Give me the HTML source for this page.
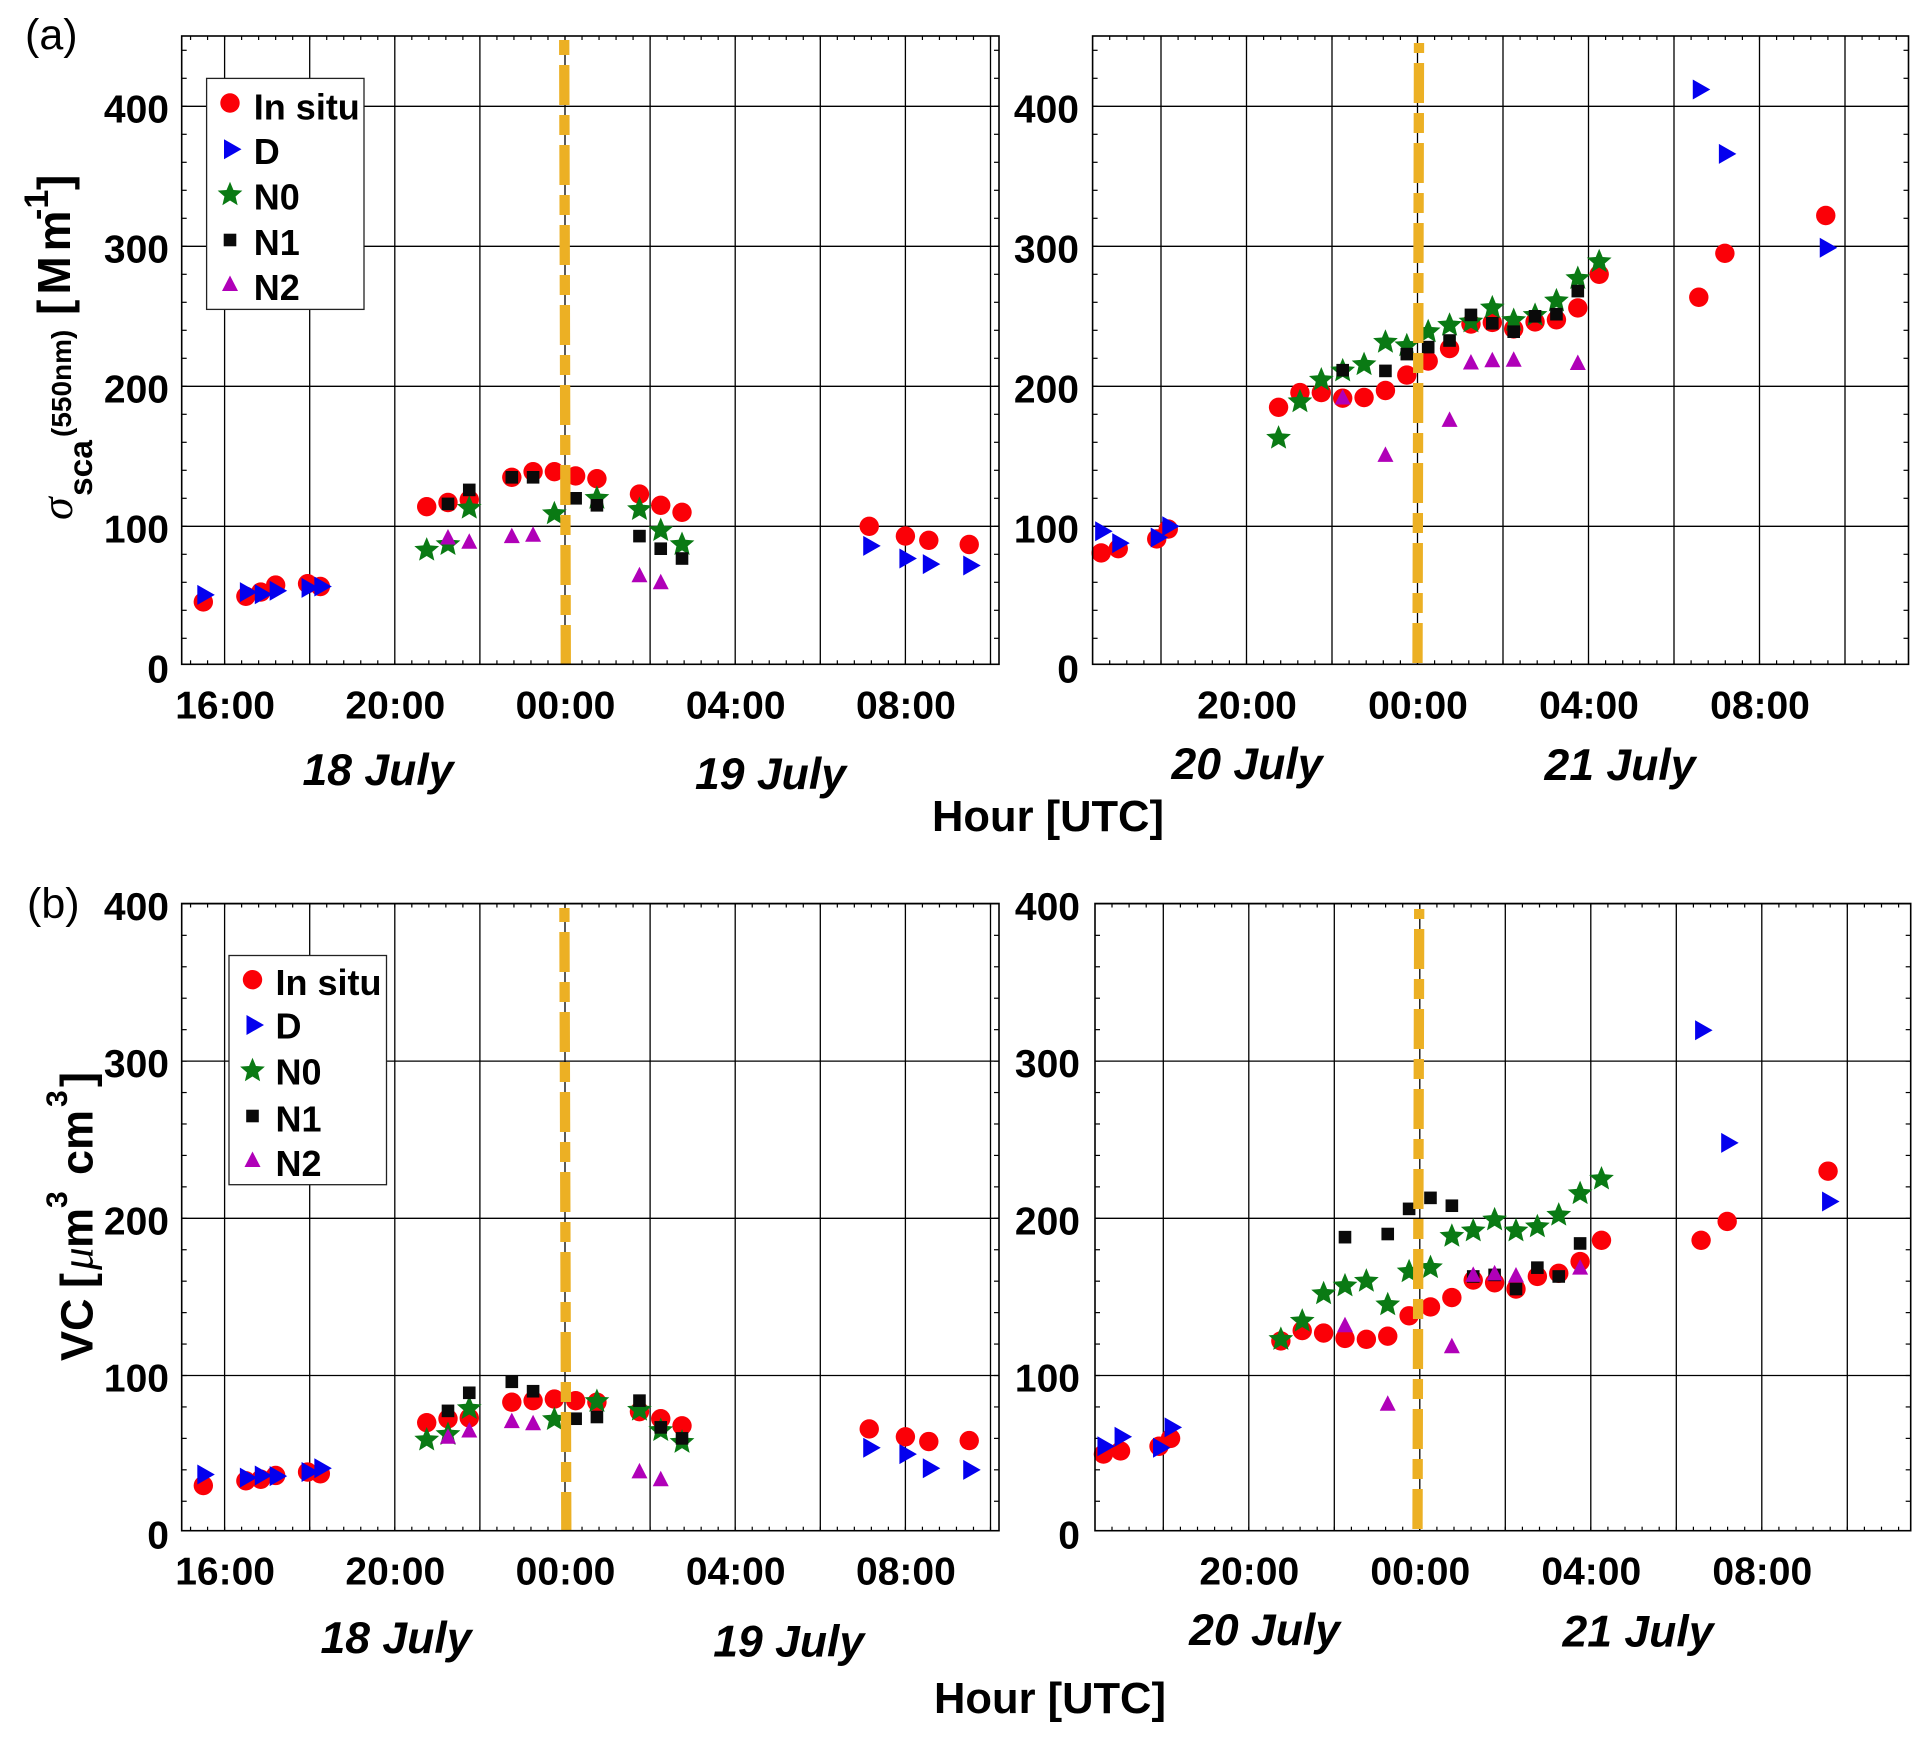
<!DOCTYPE html>
<html lang="en">
<head>
<meta charset="utf-8">
<title>Scattering coefficient and volume concentration time series</title>
<style>
html,body{margin:0;padding:0;background:#fff;}
svg{display:block;}
text{font-family:"Liberation Sans",sans-serif;fill:#000;}
.tick{font-weight:700;font-size:39px;}
.date{font-weight:700;font-style:italic;font-size:44.5px;text-anchor:middle;}
.hour{font-weight:700;font-size:43.5px;text-anchor:middle;}
.leg{font-weight:700;font-size:36px;}
.tag{font-size:43px;}
.ttl{font-weight:700;}
.sym{font-family:"Liberation Serif",serif;font-style:italic;font-weight:400;}
</style>
</head>
<body>
<svg id="chart" xmlns="http://www.w3.org/2000/svg" width="1931" height="1741" viewBox="0 0 1931 1741">
  <rect x="0" y="0" width="1931" height="1741" fill="#fff"/>
  <g id="plots"></g>

  <text class="tag" x="25" y="49">(a)</text>
  <text class="tag" x="27" y="918">(b)</text>

  <g>
    <text class="sym" font-size="46" transform="translate(72,520) rotate(-90)">σ</text>
    <text class="ttl" font-size="33.5" transform="translate(92,496) rotate(-90)">sca</text>
    <text class="ttl" font-size="28" transform="translate(71,437) rotate(-90)">(550nm)</text>
    <text class="ttl" font-size="46" letter-spacing="5" transform="translate(70,315) rotate(-90)">[Mm</text>
    <text class="ttl" font-size="34" transform="translate(48,220) rotate(-90)">-1</text>
    <text class="ttl" font-size="46" transform="translate(70,190) rotate(-90)">]</text>
  </g>
  <g>
    <text class="ttl" font-size="45" transform="translate(92.5,1361) rotate(-90)">VC</text>
    <text class="ttl" font-size="45" transform="translate(92.5,1288) rotate(-90)">[</text>
    <text class="sym" font-size="45" transform="translate(92.5,1270) rotate(-90)">μ</text>
    <text class="ttl" font-size="45" transform="translate(92.5,1248) rotate(-90)">m</text>
    <text class="ttl" font-size="30" transform="translate(67,1208) rotate(-90)">3</text>
    <text class="ttl" font-size="45" transform="translate(92.5,1175) rotate(-90)">cm</text>
    <text class="ttl" font-size="30" transform="translate(67,1107) rotate(-90)">3</text>
    <text class="ttl" font-size="45" transform="translate(92.5,1087) rotate(-90)">]</text>
  </g>

  <text class="date" x="378" y="785">18 July</text>
  <text class="date" x="770.5" y="789">19 July</text>
  <text class="date" x="1247" y="779">20 July</text>
  <text class="date" x="1620" y="780">21 July</text>
  <text class="hour" x="1048" y="831">Hour [UTC]</text>

  <text class="date" x="396" y="1653">18 July</text>
  <text class="date" x="788.7" y="1656.6">19 July</text>
  <text class="date" x="1264.6" y="1645">20 July</text>
  <text class="date" x="1638" y="1646.5">21 July</text>
  <text class="hour" x="1050" y="1713">Hour [UTC]</text>

  <g id="legends"></g>
</svg>
<script>
// ---- shared sample times (hours; 24 = 00:00 of the following day) ----
const leftTimes = [15.5,16.5,16.85,17.2,17.95,18.25,20.75,21.25,21.75,22.75,23.25,23.75,24.25,24.75,25.75,26.25,26.75,31.15,32,32.55,33.5];
const rightTimes = [16.6,17,17.9,18.17,20.75,21.25,21.75,22.25,22.75,23.25,23.75,24.25,24.75,25.25,25.75,26.25,26.75,27.25,27.75,28.25,30.58,31.19,33.55];

// ---- panel (a) scattering, 18-19 July ----
const scaLeftInSitu = [46,50,53,58,59,57,114,117,119,135,139,139,136,134,123,115,110,100,93,90,87];
const scaLeftD = [51,53,51.5,54,56,57,null,null,null,null,null,null,null,null,null,null,null,86,77,73,72];
const scaLeftN0 = [null,null,null,null,null,null,83,87,113,null,null,109,null,120,112,97,87,null,null,null,null];
const scaLeftN1 = [null,null,null,null,null,null,null,116,126,135,135,null,120,115,93,84,77,null,null,null,null];
const scaLeftN2 = [null,null,null,null,null,null,null,92,89,93,94,null,null,null,65,60,null,null,null,null,null];

// ---- panel (a) scattering, 20-21 July ----
const scaRightInSitu = [81,84,91,98,185,195.5,195.5,191.5,192,197,208,218,227,244.5,245.6,241,246,247.5,256,280,263.6,295,322];
const scaRightD = [96.5,88,92,100,null,null,null,null,null,null,null,null,null,null,null,null,null,null,null,null,412,366,299];
const scaRightN0 = [null,null,null,null,163,189,204.5,211,215.5,231.5,229,239,243.6,246,256,247,250.7,261,277,289,null,null,null];
const scaRightN1 = [null,null,null,null,null,null,null,211.5,null,211,223,228,232.7,251,245,239,250,251.5,268,null,null,null,null];
const scaRightN2 = [null,null,null,null,null,null,null,192,null,151,null,null,176,217,218.6,219,null,null,216.6,null,null,null,null];

// ---- panel (b) volume concentration, 18-19 July ----
const vcLeftInSitu = [30,33,34,36.4,38.6,37.5,70,72.5,73,83,84,85,84,83,77,72.5,68,66,61,58,58.6];
const vcLeftD = [37,35,36.4,36,38.6,41,null,null,null,null,null,null,null,null,null,null,null,54,50,41,40];
const vcLeftN0 = [null,null,null,null,null,null,59,62.5,79,null,null,72,null,83.5,78,65,57.5,null,null,null,null];
const vcLeftN1 = [null,null,null,null,null,null,null,77.5,89,96,90,null,72.5,73.6,84,67,60,null,null,null,null];
const vcLeftN2 = [null,null,null,null,null,null,null,61,65,71,69.6,null,null,null,39,34,null,null,null,null,null];

// ---- panel (b) volume concentration, 20-21 July ----
const vcRightInSitu = [50,52,55,60,122,128.6,127,123.6,123,125,138,143.6,149.6,160.7,159,155,163,165,172.5,186,186,198,230];
const vcRightD = [55,61,54,67,null,null,null,null,null,null,null,null,null,null,null,null,null,null,null,null,319.6,248,210.7];
const vcRightN0 = [null,null,null,null,123,134.6,152,157,160,145,166,168.6,188.6,192,199,192,194.6,202,215.7,225,null,null,null];
const vcRightN1 = [null,null,null,null,null,null,null,188,null,190,206,213,208,163,164,155,168.6,163,184,null,null,null,null];
const vcRightN2 = [null,null,null,null,null,null,null,132,null,82,null,null,118.6,164,165,163.6,null,null,168.6,null,null,null,null];

// ---- tick labels ----
const hourLabelsLeft = ['16:00','20:00','00:00','04:00','08:00'];
const hourTicksLeft = [16,20,24,28,32];
const hourLabelsRight = ['20:00','00:00','04:00','08:00'];
const hourTicksRight = [20,24,28,32];
const sigmaTicks = [0,100,200,300,400];
const vcTicks = [0,100,200,300,400];
const legendLabels = ['In situ','D','N0','N1','N2'];

const NS = 'http://www.w3.org/2000/svg';
const COLORS = {circle:'#fb0007',right:'#0400ee',star:'#0a7a14',square:'#0a0a0a',up:'#b000b8'};
const KINDS = ['circle','right','star','square','up'];

function make(tag, attrs, parent){
  const el = document.createElementNS(NS, tag);
  for (const k in attrs) el.setAttribute(k, attrs[k]);
  parent.appendChild(el);
  return el;
}
function starPoints(cx, cy, R){
  const pts = [];
  for (let i = 0; i < 10; i++){
    const r = i % 2 ? R * 0.45 : R;
    const a = -Math.PI / 2 + i * Math.PI / 5;
    pts.push((cx + r * Math.cos(a)).toFixed(2) + ',' + (cy + r * Math.sin(a)).toFixed(2));
  }
  return pts.join(' ');
}
function drawMarker(kind, cx, cy, parent){
  const fill = COLORS[kind];
  if (kind === 'circle') return make('circle', {cx:cx, cy:cy, r:9.7, fill:fill}, parent);
  if (kind === 'right') return make('polygon', {points:(cx-6)+','+(cy-10)+' '+(cx+11.5)+','+cy+' '+(cx-6)+','+(cy+10), fill:fill}, parent);
  if (kind === 'star') return make('polygon', {points:starPoints(cx, cy, 13), fill:fill}, parent);
  if (kind === 'square') return make('rect', {x:cx-6.3, y:cy-6.3, width:12.6, height:12.6, fill:fill}, parent);
  return make('polygon', {points:(cx-8)+','+(cy+7)+' '+cx+','+(cy-8.5)+' '+(cx+8)+','+(cy+7), fill:fill}, parent);
}

function drawPanel(p){
  const root = document.getElementById('plots');
  const g = make('g', {}, root);
  
  
  const x = t => p.x00 + (t - 24) * p.pxH;
  const y = v => p.y0 - v * p.pxV;
  const line = (x1, y1, x2, y2, w, parent) => make('line', {x1:x1, y1:y1, x2:x2, y2:y2, stroke:'#000', 'stroke-width':w}, parent);

  const grid = make('g', {}, g);
  
  
  for (let h = 16; h <= p.tMax; h += 2){
    if (x(h) > p.l && x(h) < p.r) line(x(h), p.t, x(h), p.b, 1.3, grid);
  }
  p.yTicks.forEach(v => { if (v > 0) line(p.l, y(v), p.r, y(v), 1.3, grid); });

  const ticks = make('g', {}, g);
  
  
  for (let i = 0; i <= 60; i++){
    const xx = x(14 + i * 0.4);
    if (xx > p.l + 1 && xx < p.r - 1){
      line(xx, p.t, xx, p.t + 4, 1.2, ticks);
      line(xx, p.b, xx, p.b - 4, 1.2, ticks);
    }
  }
  for (let v = 20; v <= p.vMax; v += 20){
    if (y(v) > p.t + 1){
      line(p.l, y(v), p.l + 5, y(v), 1.2, ticks);
      line(p.r, y(v), p.r - 5, y(v), 1.2, ticks);
    }
  }

  const marks = make('g', {}, g);
  
  
  p.series.forEach((vals, si) => {
    vals.forEach((v, i) => {
      if (v === null) return;
      const m = drawMarker(KINDS[si], x(p.times[i]), y(v), marks);
      
      
    });
  });

  const noon = make('line', {x1:p.dashX1, y1:p.dashTop, x2:p.dashX2, y2:p.b, stroke:'#ecb024', 'stroke-width':10.3, 'stroke-dasharray':'20 10 40 10', 'stroke-dashoffset':p.dashOffset}, g);
  
  

  const frame = make('rect', {x:p.l, y:p.t, width:p.r - p.l, height:p.b - p.t, fill:'none', stroke:'#000', 'stroke-width':1.6}, g);
  
  

  p.yTicks.forEach(v => {
    const t = make('text', {x:p.yLabelX, y:y(v) + 16, 'text-anchor':'end', class:'tick'}, g);
    t.textContent = String(v);
    
    
  });
  p.hourTicks.forEach((h, i) => {
    const t = make('text', {x:x(h) + 0.5, y:p.xLabelY, 'text-anchor':'middle', class:'tick'}, g);
    t.textContent = p.hourLabels[i];
    
    
  });
}

function drawLegend(box){
  const root = document.getElementById('legends');
  const g = make('g', {}, root);
  
  
  const r = make('rect', {x:box.x, y:box.y, width:box.w, height:box.h, fill:'#fff', stroke:'#222', 'stroke-width':1.3}, g);
  
  
  legendLabels.forEach((label, i) => {
    const m = drawMarker(KINDS[i], box.mx, box.my[i], g);
    
    
    const t = make('text', {x:box.tx, y:box.ty[i], class:'leg'}, g);
    t.textContent = label;
    
    
  });
}

drawPanel({x00:565, pxH:42.55, y0:666.3, pxV:1.4, l:181.7, r:999, t:36, b:664.3, tMax:34, vMax:440,
  yTicks:sigmaTicks, yLabelX:169, xLabelY:718.5, hourTicks:hourTicksLeft, hourLabels:hourLabelsLeft,
  dashX1:564.2, dashX2:565.8, dashTop:40, dashOffset:5,
  times:leftTimes, series:[scaLeftInSitu, scaLeftD, scaLeftN0, scaLeftN1, scaLeftN2]});
drawPanel({x00:1417.5, pxH:42.75, y0:666.3, pxV:1.4, l:1092.6, r:1908.5, t:36, b:664.3, tMax:35, vMax:440,
  yTicks:sigmaTicks, yLabelX:1079, xLabelY:718.5, hourTicks:hourTicksRight, hourLabels:hourLabelsRight,
  dashX1:1419, dashX2:1417.5, dashTop:43, dashOffset:10,
  times:rightTimes, series:[scaRightInSitu, scaRightD, scaRightN0, scaRightN1, scaRightN2]});
drawPanel({x00:565, pxH:42.55, y0:1532.7, pxV:1.572, l:181.7, r:999, t:903.5, b:1530.7, tMax:34, vMax:380,
  yTicks:vcTicks, yLabelX:169, xLabelY:1584.7, hourTicks:hourTicksLeft, hourLabels:hourLabelsLeft,
  dashX1:564.4, dashX2:566.3, dashTop:908, dashOffset:6,
  times:leftTimes, series:[vcLeftInSitu, vcLeftD, vcLeftN0, vcLeftN1, vcLeftN2]});
drawPanel({x00:1419.8, pxH:42.75, y0:1532.7, pxV:1.572, l:1095, r:1910.7, t:903.5, b:1530.7, tMax:35, vMax:380,
  yTicks:vcTicks, yLabelX:1080, xLabelY:1584.7, hourTicks:hourTicksRight, hourLabels:hourLabelsRight,
  dashX1:1419.2, dashX2:1417.5, dashTop:909, dashOffset:10,
  times:rightTimes, series:[vcRightInSitu, vcRightD, vcRightN0, vcRightN1, vcRightN2]});

drawLegend({x:206.6, y:78.4, w:157.4, h:231, mx:230, my:[103,149.2,194.7,240,284], tx:253.8, ty:[119.6,164,209.5,255,300]});
drawLegend({x:229, y:955.5, w:157.5, h:229.2, mx:252.5, my:[979.7,1025,1070.7,1116,1160], tx:275.5, ty:[994.8,1038.7,1084.7,1131.3,1176]});
</script>
</body>
</html>
